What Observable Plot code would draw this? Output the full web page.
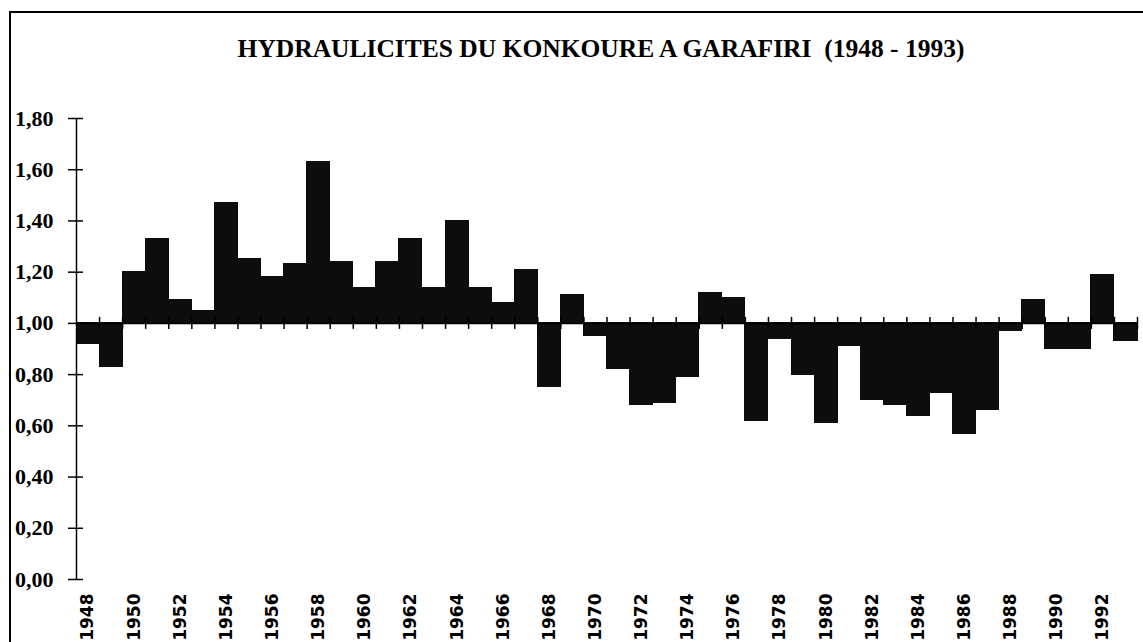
<!DOCTYPE html>
<html>
<head>
<meta charset="utf-8">
<script src="https://cdn.jsdelivr.net/npm/d3@7"></script>
<script src="https://cdn.jsdelivr.net/npm/@observablehq/plot@0.6"></script>
<style>
  html, body { margin: 0; padding: 0; background: #fff; }
  #wrap { position: relative; width: 1143px; height: 642px; overflow: hidden; background: #fff; }
  #border { position: absolute; left: 9px; top: 11px; width: 1200px; height: 700px;
            border-left: 2px solid #000; border-top: 2px solid #000; }
  #title { position: absolute; top: 36px; left: 601px; transform: translateX(-50%);
           white-space: nowrap; font: bold 25.5px "Liberation Serif", "Times New Roman", serif;
           line-height: 1; color: #000; }
  #chart { position: absolute; left: 0; top: 80px; }
  #chart svg { overflow: visible; }
  #chart g[aria-label="rect"] { shape-rendering: crispEdges; }
  #chart g[aria-label="y-axis tick label"] text { font: bold 22px "Liberation Serif", serif; fill: #000; }
  #chart g[aria-label="x-axis tick label"] text { font: bold 17px "DejaVu Sans", sans-serif; fill: #000; }
</style>
</head>
<body>
<div id="wrap">
  <div id="border"></div>
  <div id="title">HYDRAULICITES DU KONKOURE A GARAFIRI&nbsp;&nbsp;(1948 - 1993)</div>
  <div id="chart"></div>
</div>
<script>
const years = [1948,1949,1950,1951,1952,1953,1954,1955,1956,1957,1958,1959,1960,1961,1962,1963,1964,1965,1966,1967,1968,1969,1970,1971,1972,1973,1974,1975,1976,1977,1978,1979,1980,1981,1982,1983,1984,1985,1986,1987,1988,1989,1990,1991,1992,1993];
const hydraulicite = [0.92,0.83,1.20,1.33,1.09,1.05,1.47,1.25,1.18,1.23,1.63,1.24,1.14,1.24,1.33,1.14,1.40,1.14,1.08,1.21,0.75,1.11,0.95,0.82,0.68,0.69,0.79,1.12,1.10,0.62,0.94,0.80,0.61,0.91,0.70,0.68,0.64,0.73,0.57,0.66,0.97,1.09,0.90,0.90,1.19,0.93];
const yTicks = [0,0.2,0.4,0.6,0.8,1.0,1.2,1.4,1.6,1.8];
const xLabelYears = [1948,1950,1952,1954,1956,1958,1960,1962,1964,1966,1968,1970,1972,1974,1976,1978,1980,1982,1984,1986,1988,1990,1992];
const baseline = 1.0;

const data = years.map((y, i) => ({year: y, value: hydraulicite[i]}));
const boundaries = years.slice(1).concat([years[years.length - 1] + 1]);
const x0 = years[0], x1 = years[years.length - 1] + 1;

const chart = Plot.plot({
  width: 1143,
  height: 562,
  marginLeft: 76,
  marginRight: 6,
  marginTop: 38,
  marginBottom: 63,
  x: {type: "linear", domain: [x0, x1], label: null},
  y: {domain: [0, 1.8], label: null},
  marks: [
    Plot.rectY(data, {x1: "year", x2: d => d.year + 1, y1: baseline, y2: "value", fill: "#0d0d0d", stroke: "#0d0d0d", strokeWidth: 1}),
    Plot.ruleY([baseline], {x1: x0, x2: x1, stroke: "#000", strokeWidth: 1.5}),
    Plot.ruleX(boundaries, {x: d => d, y1: baseline, y2: baseline, insetTop: -6, insetBottom: -6, stroke: "#000", strokeWidth: 1.5}),
    Plot.ruleX([x0], {y1: 0, y2: 1.8, stroke: "#000", strokeWidth: 1.5}),
    Plot.ruleY(yTicks, {x1: x0, x2: x0, insetLeft: -8, insetRight: -7, stroke: "#000", strokeWidth: 1.5}),
    Plot.axisY(yTicks, {tickSize: 0, tickPadding: 23, label: null, tickFormat: d => d3.format(".2f")(d).replace(".", ",")}),
    Plot.axisX(xLabelYears.map(y => y + 0.5), {tickSize: 0, tickPadding: 14, tickRotate: -90, label: null, tickFormat: d => String(d - 0.5)})
  ]
});
document.getElementById("chart").appendChild(chart);
</script>
</body>
</html>
